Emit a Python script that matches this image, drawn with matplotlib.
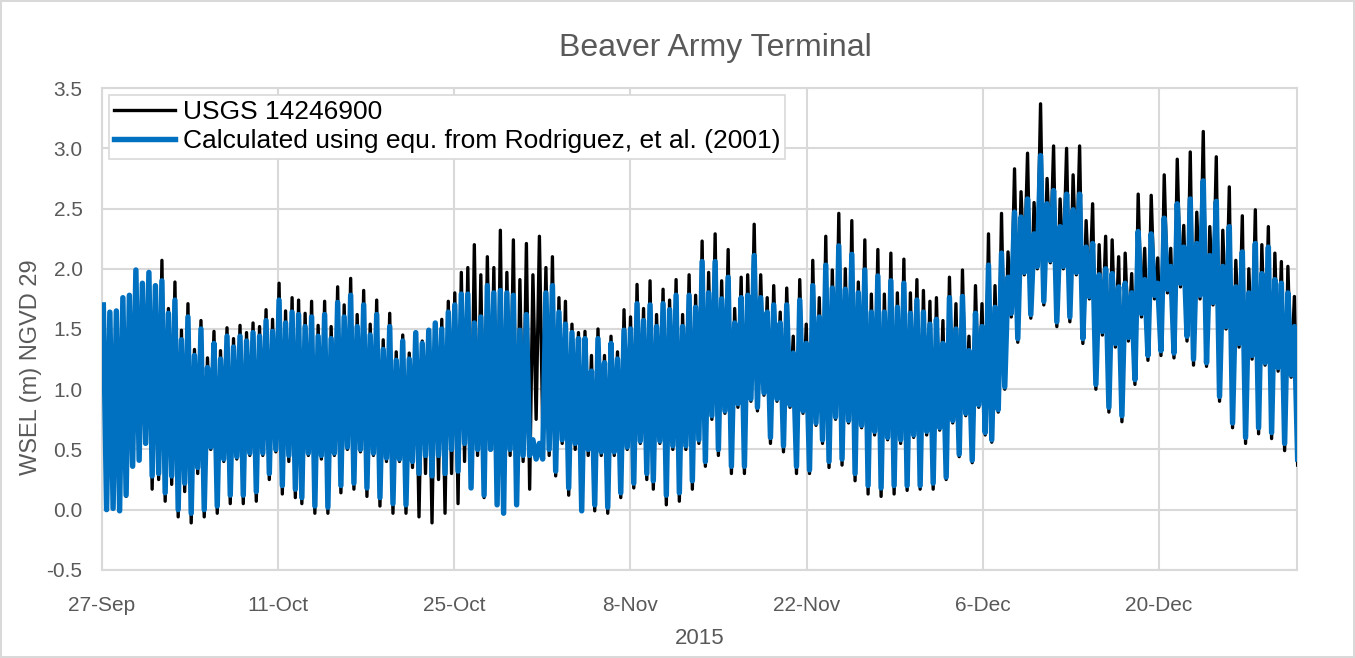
import numpy as np
import pandas as pd
import matplotlib
matplotlib.use("Agg")
import matplotlib.pyplot as plt
from matplotlib.ticker import FuncFormatter

# high / low water of each tidal cycle (m, NGVD 29)
usgs_high = [1.70, 1.64, 1.65, 1.76, 1.78, 1.99, 1.88, 1.97, 1.86, 2.07, 1.67, 1.89, 1.49, 1.71, 1.33, 1.57,
             1.26, 1.48, 1.32, 1.51, 1.42, 1.53, 1.47, 1.55, 1.52, 1.66, 1.58, 1.88, 1.65, 1.76,
             1.74, 1.63, 1.73, 1.53, 1.73, 1.52, 1.85, 1.70, 1.92, 1.62, 1.82, 1.54, 1.74, 1.41, 1.63, 1.31,
             1.45, 1.30, 1.47, 1.40, 1.49, 1.55, 1.58, 1.73, 1.80, 1.97, 2.01, 2.20, 1.95, 2.10, 2.01,
             2.32, 1.97, 2.24, 1.91, 2.21, 1.95, 2.27, 2.01, 2.10, 1.76, 1.73, 1.54, 1.47, 1.48, 1.28, 1.50,
             1.28, 1.44, 1.31, 1.66, 1.60, 1.87, 1.67, 1.90, 1.62, 1.83, 1.74, 1.91, 1.62, 1.95, 1.78, 2.23,
             1.97, 2.29, 1.90, 2.16, 1.67, 1.93, 1.95, 2.37, 1.95, 1.76, 1.86, 1.64, 1.84, 1.44, 1.91,
             1.54, 2.07, 1.76, 2.27, 1.99, 2.46, 2.00, 2.40, 1.89, 2.24, 1.79, 2.16, 1.79, 2.13, 1.80,
             2.08, 1.80, 1.91, 1.82, 1.73, 1.76, 1.57, 1.93, 1.71, 1.99, 1.44, 1.86, 1.71, 2.29, 1.86, 2.46,
             2.14, 2.83, 2.64, 2.96, 2.55, 3.37, 2.75, 3.02, 2.58, 3.00, 2.78, 3.02, 2.40, 2.54, 2.20,
             2.27, 2.24, 2.10, 2.13, 1.96, 2.62, 2.17, 2.61, 2.09, 2.78, 2.17, 2.91, 2.36, 2.97, 2.47,
             3.14, 2.35, 2.93, 2.32, 2.68, 2.07, 2.44, 2.00, 2.49, 2.20, 2.35, 2.13, 2.06, 2.02, 1.77]
usgs_low = [0.00, 0.01, -0.01, 0.11, 0.36, 0.41, 0.55, 0.17, 0.25, 0.07, 0.21, -0.06, 0.15, -0.11, 0.30, -0.06,
            0.50, -0.03, 0.40, 0.05, 0.42, 0.05, 0.45, 0.07, 0.45, 0.25, 0.48, 0.13, 0.40, 0.10,
            0.05, 0.45, -0.03, 0.42, -0.03, 0.45, 0.14, 0.50, 0.17, 0.48, 0.11, 0.45, 0.03, 0.40, -0.03, 0.40,
            -0.03, 0.35, -0.06, 0.30, -0.11, 0.25, -0.03, 0.30, 0.05, 0.40, 0.18, 0.45, 0.10, 0.50, 0.05,
            -0.03, 0.45, 0.04, 0.40, 0.17, 0.75, 0.70, 0.45, 0.28, 0.55, 0.12, 0.50, 0.00, 0.45, -0.01, 0.45,
            -0.03, 0.45, 0.10, 0.50, 0.18, 0.55, 0.25, 0.17, 0.55, 0.04, 0.50, 0.07, 0.50, 0.17, 0.55, 0.36,
            0.75, 0.45, 0.80, 0.30, 0.85, 0.30, 0.90, 0.82, 0.95, 0.55, 0.90, 0.48, 0.85, 0.30, 0.80,
            0.30, 0.70, 0.55, 0.35, 0.75, 0.37, 0.72, 0.24, 0.68, 0.13, 0.62, 0.11, 0.58, 0.13, 0.55,
            0.16, 0.60, 0.17, 0.62, 0.17, 0.66, 0.25, 0.72, 0.44, 0.78, 0.39, 0.85, 0.62, 0.56, 0.81, 1.00,
            1.60, 1.39, 1.95, 1.59, 2.00, 1.70, 2.05, 1.52, 2.00, 1.56, 1.95, 1.38, 1.75, 1.00, 1.45,
            0.81, 1.35, 0.73, 1.40, 1.04, 1.60, 1.24, 1.75, 1.28, 1.80, 1.26, 1.85, 1.40, 1.20, 1.75,
            1.19, 1.70, 0.90, 1.50, 0.68, 1.35, 0.55, 1.25, 0.63, 1.20, 0.59, 1.15, 0.49, 1.10, 0.37]

calc_high = [1.70, 1.64, 1.65, 1.76, 1.78, 1.99, 1.88, 1.97, 1.86, 1.90, 1.63, 1.74, 1.41, 1.60, 1.28, 1.50,
             1.18, 1.38, 1.25, 1.44, 1.35, 1.44, 1.40, 1.47, 1.44, 1.57, 1.48, 1.74, 1.55, 1.64,
             1.62, 1.52, 1.60, 1.44, 1.62, 1.42, 1.72, 1.60, 1.78, 1.52, 1.70, 1.45, 1.62, 1.33, 1.52, 1.24,
             1.40, 1.25, 1.47, 1.38, 1.49, 1.55, 1.50, 1.64, 1.70, 1.79, 1.79, 1.55, 1.60, 1.86, 1.80,
             1.82, 1.80, 1.78, 1.49, 1.62, 0.58, 0.55, 1.80, 1.86, 1.64, 1.54, 1.47, 1.42, 1.42, 1.15, 1.42,
             1.22, 1.38, 1.25, 1.49, 1.50, 1.71, 1.57, 1.70, 1.52, 1.71, 1.66, 1.78, 1.52, 1.78, 1.68, 2.06,
             1.80, 2.06, 1.75, 1.93, 1.55, 1.76, 1.78, 2.11, 1.76, 1.64, 1.70, 1.55, 1.70, 1.30, 1.74,
             1.38, 1.86, 1.60, 2.03, 1.84, 2.19, 1.83, 2.12, 1.80, 1.99, 1.64, 1.94, 1.64, 1.90, 1.68,
             1.88, 1.63, 1.74, 1.64, 1.54, 1.58, 1.38, 1.76, 1.50, 1.77, 1.32, 1.63, 1.52, 2.03, 1.68, 2.13,
             1.93, 2.47, 2.43, 2.58, 2.29, 2.94, 2.54, 2.65, 2.35, 2.62, 2.49, 2.62, 2.18, 2.21, 1.95,
             2.00, 1.96, 1.85, 1.88, 1.80, 2.31, 1.91, 2.29, 1.88, 2.42, 2.02, 2.54, 2.18, 2.58, 2.21,
             2.73, 2.11, 2.56, 2.02, 2.35, 1.85, 2.14, 1.80, 2.21, 1.96, 2.18, 1.91, 1.88, 1.80, 1.52]
calc_low = [0.00, 0.01, -0.01, 0.12, 0.36, 0.41, 0.55, 0.28, 0.30, 0.14, 0.28, 0.00, 0.22, -0.03, 0.35, 0.00,
            0.52, 0.03, 0.42, 0.12, 0.44, 0.12, 0.47, 0.15, 0.47, 0.30, 0.50, 0.20, 0.45, 0.17,
            0.10, 0.47, 0.03, 0.45, 0.02, 0.47, 0.20, 0.52, 0.22, 0.50, 0.18, 0.47, 0.10, 0.43, 0.05, 0.42,
            0.04, 0.40, 0.30, 0.45, 0.28, 0.45, 0.30, 0.50, 0.32, 0.55, 0.18, 0.50, 0.12, 0.50, 0.04,
            -0.03, 0.50, 0.04, 0.45, 0.45, 0.42, 0.42, 0.50, 0.32, 0.58, 0.18, 0.55, -0.01, 0.50, 0.04, 0.48,
            0.02, 0.48, 0.14, 0.52, 0.22, 0.57, 0.30, 0.24, 0.57, 0.12, 0.53, 0.14, 0.53, 0.24, 0.58, 0.40,
            0.78, 0.50, 0.82, 0.36, 0.88, 0.36, 0.92, 0.85, 0.97, 0.60, 0.92, 0.53, 0.87, 0.36, 0.82,
            0.33, 0.72, 0.58, 0.40, 0.77, 0.42, 0.74, 0.30, 0.70, 0.20, 0.65, 0.18, 0.60, 0.20, 0.58,
            0.20, 0.62, 0.20, 0.65, 0.22, 0.68, 0.27, 0.74, 0.46, 0.80, 0.41, 0.87, 0.64, 0.58, 0.83, 1.02,
            1.63, 1.42, 1.97, 1.62, 2.02, 1.73, 2.07, 1.56, 2.02, 1.60, 1.97, 1.42, 1.77, 1.04, 1.48,
            0.85, 1.38, 0.78, 1.43, 1.08, 1.63, 1.28, 1.78, 1.32, 1.83, 1.30, 1.88, 1.44, 1.25, 1.78,
            1.22, 1.72, 0.94, 1.52, 0.72, 1.38, 0.60, 1.28, 0.68, 1.22, 0.64, 1.18, 0.55, 1.12, 0.42]

first_high = "2015-09-27 02:30"
x_start, x_end = "2015-09-27", "2015-12-31"
y_ticks = [-0.5, 0.0, 0.5, 1.0, 1.5, 2.0, 2.5, 3.0, 3.5]


def tide_series(highs, lows):
    # high, then the low half a cycle (~6h12m) later
    t_hi = pd.date_range(first_high, periods=len(highs), freq="745min")
    t_lo = t_hi + pd.Timedelta(minutes=372)
    s = pd.concat([pd.Series(highs, index=t_hi), pd.Series(lows, index=t_lo[:len(lows)])])
    return s.sort_index()


usgs = tide_series(usgs_high, usgs_low)
calc = tide_series(calc_high, calc_low)

plt.rcParams['font.family'] = ['Liberation Sans', 'DejaVu Sans']
grey = '#595959'
grid_c = '#d9d9d9'

fig = plt.figure(figsize=(13.55, 6.58), dpi=100)
fig.patch.set_edgecolor(grid_c)
fig.patch.set_linewidth(1.5)
ax = fig.add_axes([0.0753, 0.134, 0.882, 0.732])

ax.plot(usgs.index, usgs.values, color='black', lw=2.4, label='USGS 14246900', zorder=3)
ax.plot(calc.index, calc.values, color='#0070C0', lw=3.9,
        label='Calculated using equ. from Rodriguez, et al. (2001)', zorder=4)

ax.set_xlim(pd.Timestamp(x_start), pd.Timestamp(x_end))
ax.set_ylim(-0.5, 3.5)
ax.set_yticks(y_ticks)
ax.yaxis.set_major_formatter(FuncFormatter(lambda v, p: f"{v:.1f}"))
ticks = pd.date_range(x_start, x_end, freq="14D")
ax.set_xticks(ticks)
ax.set_xticklabels([f"{d.day}-{d:%b}" for d in ticks])

ax.grid(True, color=grid_c, lw=1.5, zorder=0)
ax.set_axisbelow(True)
for sp in ax.spines.values():
    sp.set_color(grid_c)
    sp.set_linewidth(1.5)
ax.tick_params(length=0, labelsize=15, labelcolor=grey)
ax.tick_params(axis='x', pad=19)
ax.tick_params(axis='y', pad=14)

fig.text(0.528, 0.927, 'Beaver Army Terminal', fontsize=23, color=grey, ha='center', va='center')
ax.set_ylabel('WSEL (m) NGVD 29', fontsize=17, color=grey)
ax.yaxis.set_label_coords(-0.05, 0.42)
ax.set_xlabel('2015', fontsize=16, color=grey, labelpad=9)

leg = ax.legend(loc='upper left', fontsize=19, frameon=True, fancybox=False, framealpha=1,
                edgecolor=grid_c, borderaxespad=0.25, handlelength=2.3, borderpad=0.2,
                labelspacing=0.2, handletextpad=0.3)
leg.get_frame().set_linewidth(1.2)
leg.set_zorder(6)

fig.savefig('out.png', dpi=100)
